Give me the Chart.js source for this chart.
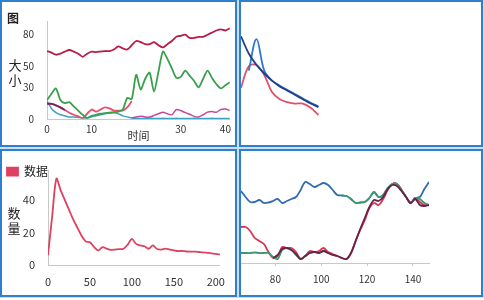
<!DOCTYPE html>
<html>
<head>
<meta charset="utf-8">
<script src="https://cdn.jsdelivr.net/npm/chart.js@4.4.1/dist/chart.umd.min.js"></script>
<style>
  html, body { margin: 0; padding: 0; background: #fff; }
  body { width: 484px; height: 300px; position: relative; overflow: hidden; }
  .panel { position: absolute; box-sizing: border-box; border: 2px solid #2f7fd0; box-shadow: 0 0 0 1px rgba(47,127,208,0.25); background: #fff; }
  .panel canvas { display: block; }
  #p1 { left: 0; top: 0; width: 237px; height: 147px; }
  #p2 { left: 239px; top: 0; width: 244px; height: 147px; }
  #p3 { left: 0; top: 149px; width: 237px; height: 148px; }
  #p4 { left: 239px; top: 149px; width: 244px; height: 148px; }
</style>
</head>
<body>
<div class="panel" id="p1"><canvas id="c1" width="233" height="143"></canvas></div>
<div class="panel" id="p2"><canvas id="c2" width="240" height="143"></canvas></div>
<div class="panel" id="p3"><canvas id="c3" width="233" height="144"></canvas></div>
<div class="panel" id="p4"><canvas id="c4" width="240" height="144"></canvas></div>
<script>
// ---- data: top-left panel ----
const xs1 = [0,1,2,3,4,5,6,7,8,9,10,11,12,13,14,15,16,17,18,19,20,21,22,23,24,25,26,27,28,29,30,31,32,33,34,35,36,37,38,39,40,41];
const xTicks1 = [0, 10, 30, 40];
const yTicks1 = [0, 30, 50, 80];
const crimson1 = [64.5,63,61,62,64,65.5,64,62,59,62,64,63.5,64,64.5,64.5,66,69,67,66,70,74,73,71,71,73,70,68,71,74,78,79,80,77,77,78,78,80,82,84,85,84,86];
const green1 = [18,24,29,18,15,16,12,8,4,1,3,4,5,5.5,6,6.5,7,9,20,19,42,28,38,44,26,45,64,57,48,39,40,46,41,36,30,38,46,39,33,29,32,35];
const dark1 = [14.5,14.3,13,11,8.5,null,null,null,null,null,null,null,null,null,null,null,null,null,null,null,null,null,null,null,null,null,null,null,null,null,null,null,null,null,null,null,null,null,null,null,null,null];
const salmon1 = [14.5,14.5,13,11,8.5,6,4,2.5,1,5,9,7,9,11,10,8,8,8,11,17,null,null,null,null,null,null,null,null,null,null,null,null,null,null,null,null,null,null,null,null,null,null];
const magenta1 = [null,null,null,null,null,null,null,null,null,null,null,null,null,null,null,null,null,null,null,1,2,2.7,2,1.8,3.4,5,6.5,5,4,9,8,6,4.5,2.5,2,4,6.5,7,6.5,9,9.5,8];
const teal1 = [17,10,6,4,3,2,2,1.5,1,1,2,3,4,5,5.5,6,5,3,2,1,0.5,0.5,0.5,0.8,0.5,0.5,0.6,0.5,0.5,0.7,0.5,0.5,0.5,0.6,0.5,0.5,0.5,0.6,0.5,0.5,0.5,0.5];

// ---- data: top-right panel ----
const xs2 = [0,1,2,3,4,5,6,7,8,9,10];
const navy2 = [76,64,56,50,45,41,38,35,32,29,26.5];
const blue2 = [null,52,74,52,45,41.5,38.5,35.5,32.5,29.5,27];
const red2 = [40,55,56,49,37,32,30,29,29,26,21];

// ---- data: bottom-left panel ----
const xs3 = [0,5,10,15,20,25,30,35,40,45,50,55,60,65,70,75,80,85,90,95,100,105,110,115,120,125,130,135,140,145,150,155,160,165,170,175,180,185,190,195,200,205];
const xTicks3 = [0, 50, 100, 150, 200];
const yTicks3 = [0, 20, 40];
const red3 = [6,30,53,46,40,34,28,23,18,14.5,14,11,9,11,10,9.3,9.5,9.7,10,12.5,16,13,12,11.5,10,12,9.8,9.5,10,9.5,9,8.5,8.7,8.3,8.2,8.2,8,7.8,7.5,7.2,6.8,6.5];

// ---- data: bottom-right panel ----
const xs4 = [65,67,69,71,73,75,77,79,81,83,85,87,89,91,93,95,97,99,101,103,105,107,109,111,113,115,117,119,121,123,125,127,129,131,133,135,137,139,141,143,145,147];
const xTicks4 = [80, 100, 120, 140];
const blue4 = [72,66,61,61,63,60,60.5,62,64,60,62,64,66,73,81,79,76,78,80,78,73,68,67.5,67,64,60,60.5,61,65,71,66,68,75,79,79,73,66,60,65,66,74,81];
const green4 = [10,10,10,10.5,10,10,10,6,4,13,15,13,8,4,7,10,11,10,12,10,8,null,67.5,67,64,60,60.5,61,65,71,66,68,75,79,79,73,66,60,65,64,60,58];
const red4 = [36,36,32,25,22,19,11,5,7,16,15,15,11,4,7,12,11,12,15,11,9,7,5,4,10,22,33,43,55,60,58,64,73,79,79,73,66,60,65,61,58,58];
const dark4 = [null,null,null,null,null,null,null,5,8,14,15,13,9,4,7,10,11,10,12,10,8,7,5,4,10,22,34,45,56,63,62,66,74,78,77,72,66,60,64,58,57,58];

Chart.defaults.font.family = "'Noto Sans CJK SC', 'Noto Sans', sans-serif";
Chart.defaults.color = '#333';

// upright, stacked y-axis caption
Chart.register({
    id: 'stackedTitle',
    afterDraw(chart, args, opts) {
        if (!opts || !opts.text) return;
        const { ctx, chartArea } = chart;
        const chars = Array.from(opts.text);
        let y = (chartArea.top + chartArea.bottom) / 2 + (opts.dy || 0) - (chars.length - 1) * opts.lineHeight / 2;
        ctx.save();
        ctx.font = opts.font;
        ctx.fillStyle = opts.color || '#222';
        ctx.textAlign = 'center';
        ctx.textBaseline = 'middle';
        chars.forEach(c => { ctx.fillText(c, opts.x, y); y += opts.lineHeight; });
        ctx.restore();
    }
});

// let the legend row overlap the top of the plot (no clipping to its short box)
Chart.register({
    id: 'compactLegend',
    beforeLayout(chart, args, opts) {
        const legend = chart.legend;
        if (!legend || !opts || !opts.height || legend._compact) return;
        const fit = legend.fit;
        legend.fit = function () { fit.call(this); this.height = opts.height; };
        legend.draw = function () { if (this.options.display) this._draw(); };
        legend._compact = true;
    }
});

function line(label, data, color, extra) {
    return Object.assign({
        label: label,
        data: data,
        borderColor: color,
        backgroundColor: color,
        borderWidth: 1.8,
        pointRadius: 0,
        fill: false
    }, extra || {});
}

const axisColor = '#c8c8c8';

// top-left
new Chart(document.getElementById('c1'), {
    type: 'line',
    data: {
        labels: xs1,
        datasets: [
            line('系列一', crimson1, '#b81c47'),
            line('系列二', dark1, '#6e2a5c'),
            line('系列三', green1, '#3a9f4c'),
            line('系列四', salmon1, '#e8506a'),
            line('系列五', magenta1, '#c4489c', { borderWidth: 1.5 }),
            line('系列六', teal1, '#3aa3c4', { borderWidth: 1.5 })
        ]
    },
    options: {
        responsive: false,
        animation: false,
        layout: { padding: { left: 5, right: 3, top: 0, bottom: 0 } },
        elements: { line: { tension: 0.25 } },
        plugins: {
            legend: { display: false },
            tooltip: { enabled: false },
            title: {
                display: true, text: '图', align: 'start', color: '#222',
                font: { size: 12, weight: 'bold' },
                padding: { top: 5, bottom: -4.4 }
            },
            stackedTitle: { text: '大小', x: 13, dy: 3, lineHeight: 15, font: "13px 'Noto Sans CJK SC'" }
        },
        scales: {
            x: {
                type: 'linear', min: 0, max: 41,
                grid: { display: false, drawTicks: false },
                border: { color: axisColor },
                afterBuildTicks: s => { s.ticks = xTicks1.map(v => ({ value: v })); },
                afterFit: s => { s.height = 26; },
                ticks: { padding: 4, font: { size: 10 }, color: '#333' },
                title: { display: true, text: '时间', font: { size: 11 }, color: '#333', padding: { top: 0, bottom: 3 } }
            },
            y: {
                min: 0, max: 93,
                grid: { display: false, drawTicks: false },
                border: { color: axisColor },
                afterBuildTicks: s => { s.ticks = yTicks1.map(v => ({ value: v })); },
                afterFit: s => { s.width = 40; },
                ticks: { padding: 13, font: { size: 10 }, color: '#333' }
            }
        }
    }
});

// top-right
new Chart(document.getElementById('c2'), {
    type: 'line',
    data: {
        labels: xs2,
        datasets: [
            line('甲', navy2, '#223f8e'),
            line('乙', blue2, '#2f78c8'),
            line('丙', red2, '#e0506c')
        ]
    },
    options: {
        responsive: false,
        animation: false,
        layout: { padding: 0 },
        elements: { line: { tension: 0.35 } },
        plugins: { legend: { display: false }, tooltip: { enabled: false } },
        scales: {
            x: { type: 'linear', min: 0, max: 31, display: false },
            y: { min: 0, max: 100, display: false }
        }
    }
});

// bottom-left
new Chart(document.getElementById('c3'), {
    type: 'line',
    data: {
        labels: xs3,
        datasets: [line('数据', red3, '#e0405f', { borderWidth: 1.8 })]
    },
    options: {
        responsive: false,
        animation: false,
        layout: { padding: { left: 0, right: 2, top: 6, bottom: 0 } },
        elements: { line: { tension: 0.3 } },
        plugins: {
            legend: {
                display: true, position: 'top', align: 'start',
                labels: { boxWidth: 11, boxHeight: 8, padding: 5, color: '#222', font: { size: 12 } }
            },
            compactLegend: { height: 10 },
            tooltip: { enabled: false },
            stackedTitle: { text: '数量', x: 12, dy: 3, lineHeight: 15, font: "13px 'Noto Sans CJK SC'" }
        },
        scales: {
            x: {
                type: 'linear', min: 0, max: 205,
                grid: { display: false, drawTicks: false },
                border: { color: axisColor },
                afterBuildTicks: s => { s.ticks = xTicks3.map(v => ({ value: v })); },
                afterFit: s => { s.height = 30; },
                ticks: { padding: 10, font: { size: 11 }, color: '#333' }
            },
            y: {
                min: 0, max: 58,
                grid: { display: false, drawTicks: false },
                border: { color: axisColor },
                afterBuildTicks: s => { s.ticks = yTicks3.map(v => ({ value: v })); },
                afterFit: s => { s.width = 46; },
                ticks: { padding: 13, font: { size: 11 }, color: '#333' }
            }
        }
    }
});

// bottom-right
new Chart(document.getElementById('c4'), {
    type: 'line',
    data: {
        labels: xs4,
        datasets: [
            line('丁', dark4, '#6a2149'),
            line('乙', green4, '#3d9a6c'),
            line('丙', red4, '#d8334f'),
            line('甲', blue4, '#2f6cb2')
        ]
    },
    options: {
        responsive: false,
        animation: false,
        layout: { padding: { left: 0, right: 52, top: 0, bottom: 0 } },
        elements: { line: { tension: 0.35 } },
        plugins: { legend: { display: false }, tooltip: { enabled: false } },
        scales: {
            x: {
                type: 'linear', min: 65, max: 147,
                grid: { display: true, drawOnChartArea: false, drawTicks: true, tickLength: 3, color: axisColor },
                border: { color: axisColor },
                afterBuildTicks: s => { s.ticks = xTicks4.map(v => ({ value: v })); },
                afterFit: s => { s.height = 32; },
                ticks: { padding: 7, font: { size: 10 }, color: '#333' }
            },
            y: { min: 0, max: 112, display: false }
        }
    }
});
</script>
</body>
</html>
